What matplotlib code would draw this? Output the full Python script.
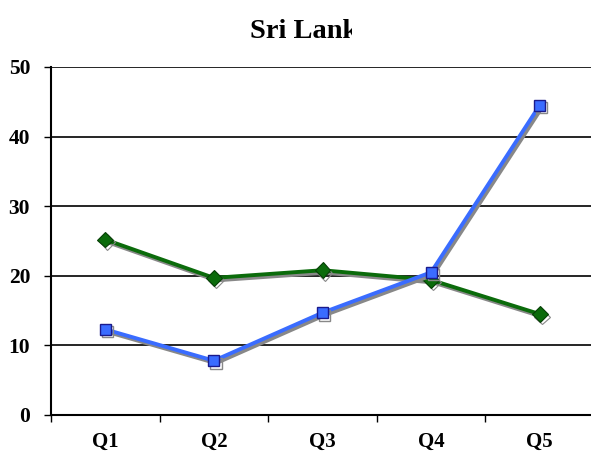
import matplotlib
matplotlib.use("Agg")
import matplotlib.pyplot as plt
import matplotlib.patheffects as pe
from matplotlib.transforms import Bbox

categories = ["Q1", "Q2", "Q3", "Q4", "Q5"]
green_vals = [25.2, 19.7, 20.8, 19.4, 14.5]
blue_vals = [12.3, 7.8, 14.7, 20.5, 44.5]
yticks = [0, 10, 20, 30, 40, 50]

plt.rcParams['font.family'] = ['Liberation Serif', 'DejaVu Serif']
plt.rcParams['font.weight'] = 'bold'

fig = plt.figure(figsize=(5.91, 4.62), dpi=100)
W, H = 591, 462
ax = fig.add_axes([51 / W, (H - 415) / H, 543 / W, 348 / H])

shadow = [pe.SimpleLineShadow(offset=(1.5, -1.8), shadow_color='#888888', alpha=1.0),
          pe.Normal()]

for yv in yticks[1:]:
    ax.axhline(yv, color='black', lw=1.2, zorder=1)

xs = list(range(len(categories)))
ax.plot(xs, green_vals, color='#0b6b0b', lw=2.8, marker='D', ms=8,
        mfc='#0b6b0b', mec='#063f06', mew=0.8, zorder=3, path_effects=shadow)
ax.plot(xs, blue_vals, color='#3a6cff', lw=2.8, marker='s', ms=8,
        mfc='#3a6cff', mec='#1a1a8c', mew=1.0, zorder=4, path_effects=shadow)

ax.set_xlim(-0.5, 4.5)
ax.set_ylim(0, 50)
ax.set_yticks(yticks)
ax.set_yticklabels([str(v) for v in yticks], fontsize=15.5, fontweight='bold')
ax.set_xticks(xs)
ax.set_xticklabels(categories, fontsize=15, fontweight='bold')
ax.tick_params(axis='x', length=0, pad=12)
ax.set_xticks([x - 0.5 for x in xs], minor=True)
ax.tick_params(axis='x', which='minor', length=5, width=1, direction='out')
ax.tick_params(axis='y', length=5, width=1, direction='out', pad=10)

for s in ['top', 'right']:
    ax.spines[s].set_visible(False)
ax.spines['left'].set_linewidth(1.5)
ax.spines['bottom'].set_linewidth(1.5)

# title is cut off at the right in the original chart
t = fig.text(250 / W, (H - 31) / H, "Sri Lank", ha='left', va='center',
             fontsize=20.5, fontweight='bold')
t.set_clip_box(Bbox.from_extents(0, 0, 352, H))
t.set_clip_on(True)

fig.savefig("out.png", dpi=100)
